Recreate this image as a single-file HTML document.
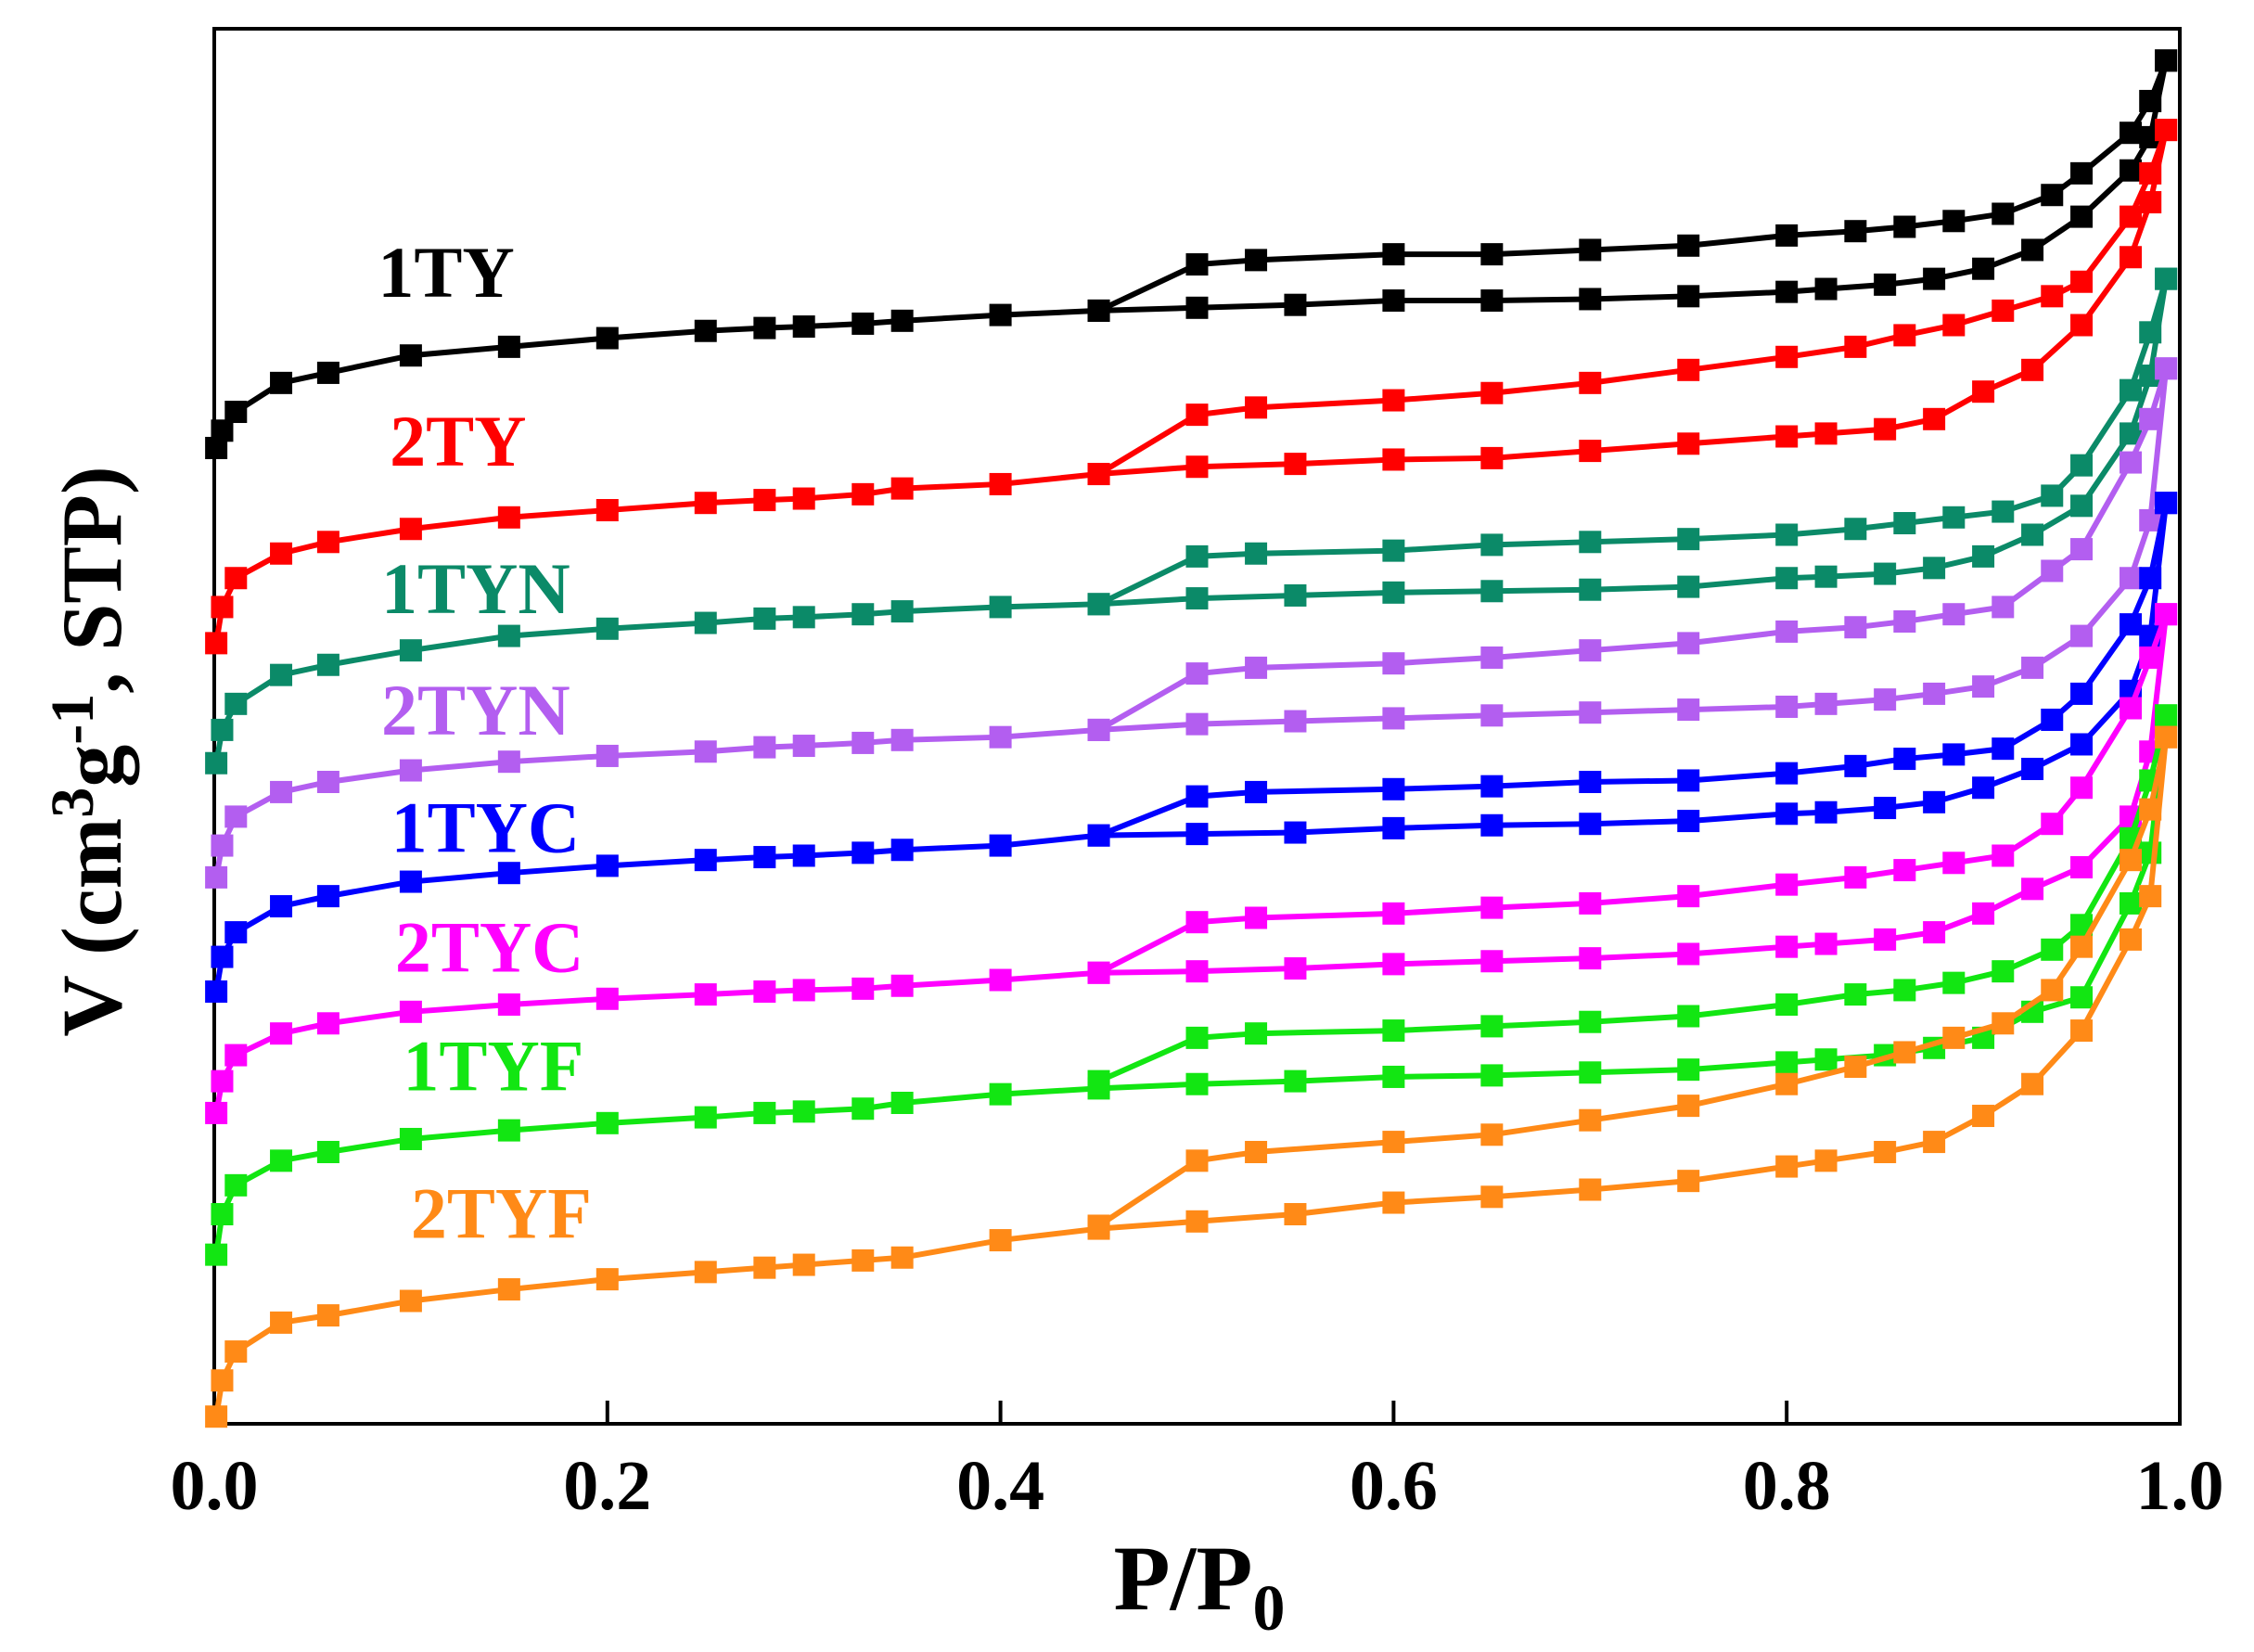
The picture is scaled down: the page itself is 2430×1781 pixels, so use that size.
<!DOCTYPE html>
<html><head><meta charset="utf-8"><style>
html,body{margin:0;padding:0;background:#fff;}
svg{display:block;font-family:"Liberation Serif",serif;font-weight:bold;}
</style></head><body>
<svg id="chart" width="2430" height="1781" viewBox="0 0 2430 1781">
<rect x="231" y="31" width="2119" height="1504" fill="none" stroke="#000" stroke-width="4"/>
<g id="ticks"></g>
<g id="series"></g>
<g id="labels"></g>
<text x="1293" y="1735" font-size="100" text-anchor="middle">P/P<tspan font-size="70" dy="22">0</tspan></text>
<text transform="translate(130,810) rotate(-90)" font-size="92" text-anchor="middle">V (cm<tspan font-size="66" dy="-30">3</tspan><tspan dy="30">g</tspan><tspan font-size="66" dy="-30">-1</tspan><tspan dy="30">, STP)</tspan></text>
</svg>
<script>
const xTicks = [0.0, 0.2, 0.4, 0.6, 0.8, 1.0];
const xTickLabels = ["0.0", "0.2", "0.4", "0.6", "0.8", "1.0"];
const adsX = [0.001,0.004,0.011,0.034,0.058,0.1,0.15,0.2,0.25,0.28,0.3,0.33,0.35,0.4,0.45,0.5,0.55,0.6,0.65,0.7,0.75,0.8,0.82,0.85,0.875,0.9,0.925,0.95,0.975,0.985,0.993];
const desX = [0.993,0.985,0.975,0.95,0.935,0.91,0.885,0.86,0.835,0.8,0.75,0.7,0.65,0.6,0.53,0.5,0.45];
const seriesNames = ["1TY","2TY","1TYN","2TYN","1TYC","2TYC","1TYF","2TYF"];
const ads1TY = [675,687,700,720,727,739,745,751,756,758,759,761,763,767,770,772,774,777,777,778,780,783,785,788,792,799,812,835,867,890,943];
const des1TY = [943,915,893,865,850,837,832,828,825,822,815,812,809,809,805,802,770];
const ads2TY = [540,565,585,602,610,619,627,632,637,639,640,643,647,650,657,662,664,667,668,673,678,683,685,688,695,714,729,760,807,845,895];
const des2TY = [895,865,835,790,780,770,760,753,745,738,729,720,713,708,703,698,657];
const ads1TYN = [457,480,498,518,525,535,545,550,554,557,558,560,562,565,567,571,573,575,576,577,579,585,586,588,592,600,615,635,685,725,792];
const des1TYN = [792,755,715,663,642,631,627,623,619,615,612,610,608,604,602,600,567];
const ads2TYN = [378,400,420,437,444,452,458,462,465,468,469,471,473,475,480,484,486,488,490,492,494,496,498,501,505,510,523,545,585,625,730];
const des2TYN = [730,695,665,605,590,565,560,555,551,548,540,535,530,526,523,519,480];
const ads1TYC = [299,323,340,358,365,375,381,386,390,392,393,395,397,400,407,408,409,412,414,415,417,422,423,426,430,440,453,470,507,545,637];
const des1TYC = [637,585,553,505,487,467,463,460,455,450,445,444,441,439,437,434,407];
const ads2TYC = [215,237,255,270,277,285,290,294,297,299,300,301,303,307,312,313,315,318,320,322,325,330,332,335,340,353,370,385,420,465,560];
const des2TYC = [560,530,495,440,415,393,388,383,378,373,365,360,357,353,350,347,312];
const ads1TYF = [117,145,165,182,188,197,203,208,212,215,216,218,222,228,232,235,237,240,241,243,245,250,252,255,260,267,285,295,360,395,490];
const des1TYF = [490,445,405,345,328,313,305,300,297,290,282,278,275,272,270,267,237];
const ads2TYF = [5,30,50,70,75,85,93,100,105,108,110,113,115,127,135,140,145,153,157,162,168,178,182,188,195,213,235,272,335,365,475];
const des2TYF = [475,425,390,330,300,277,267,257,247,235,220,210,200,195,188,182,137];
const labelX = [0.118,0.124,0.133,0.133,0.138,0.14,0.142,0.146];
const labelV = [797,680,578,494,413,330,248,146];

const adsAll = [ads1TY,ads2TY,ads1TYN,ads2TYN,ads1TYC,ads2TYC,ads1TYF,ads2TYF];
const desAll = [des1TY,des2TY,des1TYN,des2TYN,des1TYC,des2TYC,des1TYF,des2TYF];
const colors = ["#000000","#ff0000","#0b8a68","#b35ef0","#0000ff","#ff00ff","#12e612","#ff8a17"];

const X0=231, X1=2350, Y0=1535, Y1=31, VMAX=965;
function xs(v){return X0+(X1-X0)*v;}
function ys(v){return Y0-(Y0-Y1)*v/VMAX;}
const NS="http://www.w3.org/2000/svg";
const tg=document.getElementById('ticks');
xTicks.forEach((t,i)=>{
  const l=document.createElementNS(NS,'line');
  l.setAttribute('x1',xs(t));l.setAttribute('x2',xs(t));
  l.setAttribute('y1',Y0);l.setAttribute('y2',Y0-25);
  l.setAttribute('stroke','#000');l.setAttribute('stroke-width','4');
  
  
  tg.appendChild(l);
  const tx=document.createElementNS(NS,'text');
  tx.setAttribute('x',xs(t));tx.setAttribute('y',1627);
  tx.setAttribute('font-size','76');tx.setAttribute('text-anchor','middle');
  tx.textContent=xTickLabels[i];
  
  
  tg.appendChild(tx);
});
const sg=document.getElementById('series');
function drawBranch(xArr,vArr,color,name){
  const g=document.createElementNS(NS,'g');
  
  
  const pl=document.createElementNS(NS,'polyline');
  pl.setAttribute('points',xArr.map((x,i)=>xs(x)+','+ys(vArr[i])).join(' '));
  pl.setAttribute('fill','none');pl.setAttribute('stroke',color);pl.setAttribute('stroke-width','6');
  
  
  g.appendChild(pl);
  xArr.forEach((x,i)=>{
    const r=document.createElementNS(NS,'rect');
    r.setAttribute('x',xs(x)-12);r.setAttribute('y',ys(vArr[i])-12);
    r.setAttribute('width',24);r.setAttribute('height',24);r.setAttribute('fill',color);
    
    
    g.appendChild(r);
  });
  sg.appendChild(g);
}
const lg=document.getElementById('labels');
seriesNames.forEach((n,k)=>{
  drawBranch(adsX,adsAll[k],colors[k],n.toLowerCase()+'-adsorption');
  drawBranch(desX,desAll[k],colors[k],n.toLowerCase()+'-desorption');
  const t=document.createElementNS(NS,'text');
  t.setAttribute('x',xs(labelX[k]));t.setAttribute('y',ys(labelV[k])+27);
  t.setAttribute('font-size','78');t.setAttribute('text-anchor','middle');t.setAttribute('fill',colors[k]);
  t.textContent=n;
  
  
  lg.appendChild(t);
});
</script>
</body></html>
